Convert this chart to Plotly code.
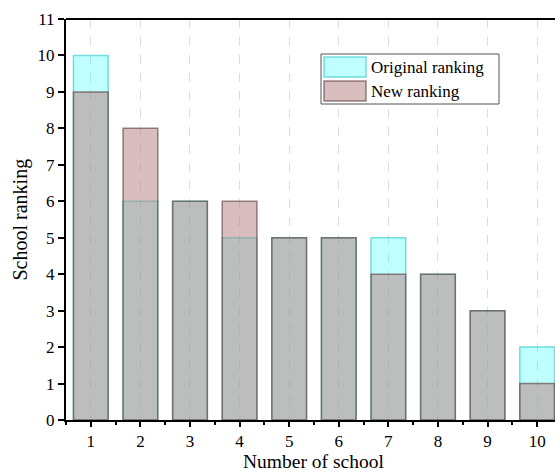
import plotly.graph_objects as go

schools = [1, 2, 3, 4, 5, 6, 7, 8, 9, 10]
original_ranking = [10, 6, 6, 5, 5, 5, 5, 4, 3, 2]
new_ranking = [9, 8, 6, 6, 5, 5, 4, 4, 3, 1]
y_ticks = list(range(0, 12))
series_names = ["Original ranking", "New ranking"]

FONT = "Liberation Serif"
W, H = 555, 473
L, R, T, B = 66, 0, 19, 53
ORIG_FILL = "rgba(0,255,255,0.25)"
ORIG_LINE = "rgba(0,190,190,0.5)"
NEW_FILL = "rgba(185,138,138,0.556)"
NEW_LINE = "rgba(90,55,55,0.6)"


def px(xp):
    return (xp - L) / (W - L - R)


def py(yp):
    return (H - B - yp) / (H - T - B)


fig = go.Figure()
fig.add_trace(go.Bar(
    x=schools, y=original_ranking, name=series_names[0], width=0.7,
    marker=dict(color=ORIG_FILL, line=dict(color=ORIG_LINE, width=1.5)),
    showlegend=False,
))
fig.add_trace(go.Bar(
    x=schools, y=new_ranking, name=series_names[1], width=0.7,
    marker=dict(color=NEW_FILL, line=dict(color=NEW_LINE, width=1.5)),
    showlegend=False,
))

# legend drawn as decoration (box, swatches, labels)
shapes = [
    dict(type="line", xref="paper", yref="paper", x0=0, x1=1, y0=1, y1=1,
         line=dict(color="black", width=2)),
    dict(type="rect", xref="paper", yref="paper", x0=px(321), x1=px(499),
         y0=py(104), y1=py(54), line=dict(color="#555", width=1), fillcolor="white"),
    dict(type="rect", xref="paper", yref="paper", x0=px(324), x1=px(366),
         y0=py(77), y1=py(57), line=dict(color=ORIG_LINE, width=1.5), fillcolor=ORIG_FILL),
    dict(type="rect", xref="paper", yref="paper", x0=px(324), x1=px(366),
         y0=py(101), y1=py(81), line=dict(color=NEW_LINE, width=1.5), fillcolor=NEW_FILL),
]

annotations = [
    dict(text="Number of school", xref="paper", yref="paper",
         x=px(313), y=py(450), xanchor="center", yanchor="top", borderpad=0,
         showarrow=False, font=dict(family=FONT, size=19.5)),
    dict(text="School ranking", xref="paper", yref="paper",
         x=px(20), y=0.5, xanchor="center", yanchor="middle", textangle=-90,
         showarrow=False, font=dict(family=FONT, size=20)),
    dict(text=series_names[0], xref="paper", yref="paper", x=px(369), y=py(67),
         xanchor="left", yanchor="middle", showarrow=False,
         font=dict(family=FONT, size=17)),
    dict(text=series_names[1], xref="paper", yref="paper", x=px(369), y=py(91),
         xanchor="left", yanchor="middle", showarrow=False,
         font=dict(family=FONT, size=17)),
]

fig.update_layout(
    width=W, height=H,
    margin=dict(l=L, r=R, t=T, b=B),
    barmode="overlay",
    plot_bgcolor="white", paper_bgcolor="white",
    font=dict(family=FONT, size=17, color="black"),
    showlegend=False,
    xaxis=dict(
        range=[0.5, 10.36], tickmode="array", tickvals=schools,
        ticks="outside", ticklen=5, tickwidth=1.5, tickcolor="black",
        showline=True, linecolor="black", linewidth=2,
        showgrid=True, gridcolor="#dcdcdc", griddash="dash", gridwidth=1,
        zeroline=False,
        minor=dict(ticks="outside", ticklen=3, tickwidth=1.5, tickcolor="black",
                   dtick=1, tick0=0.5, showgrid=False),
        tickfont=dict(family=FONT, size=17),
    ),
    yaxis=dict(
        range=[0, 11], tickmode="array", tickvals=y_ticks,
        ticks="outside", ticklen=6, tickwidth=1.5, tickcolor="black",
        showline=True, linecolor="black", linewidth=2,
        showgrid=False, zeroline=False,
        tickfont=dict(family=FONT, size=17),
    ),
    shapes=shapes,
    annotations=annotations,
)

fig.write_html("out.html", config={"displayModeBar": False},
               post_script="document.body.style.margin='0';")
